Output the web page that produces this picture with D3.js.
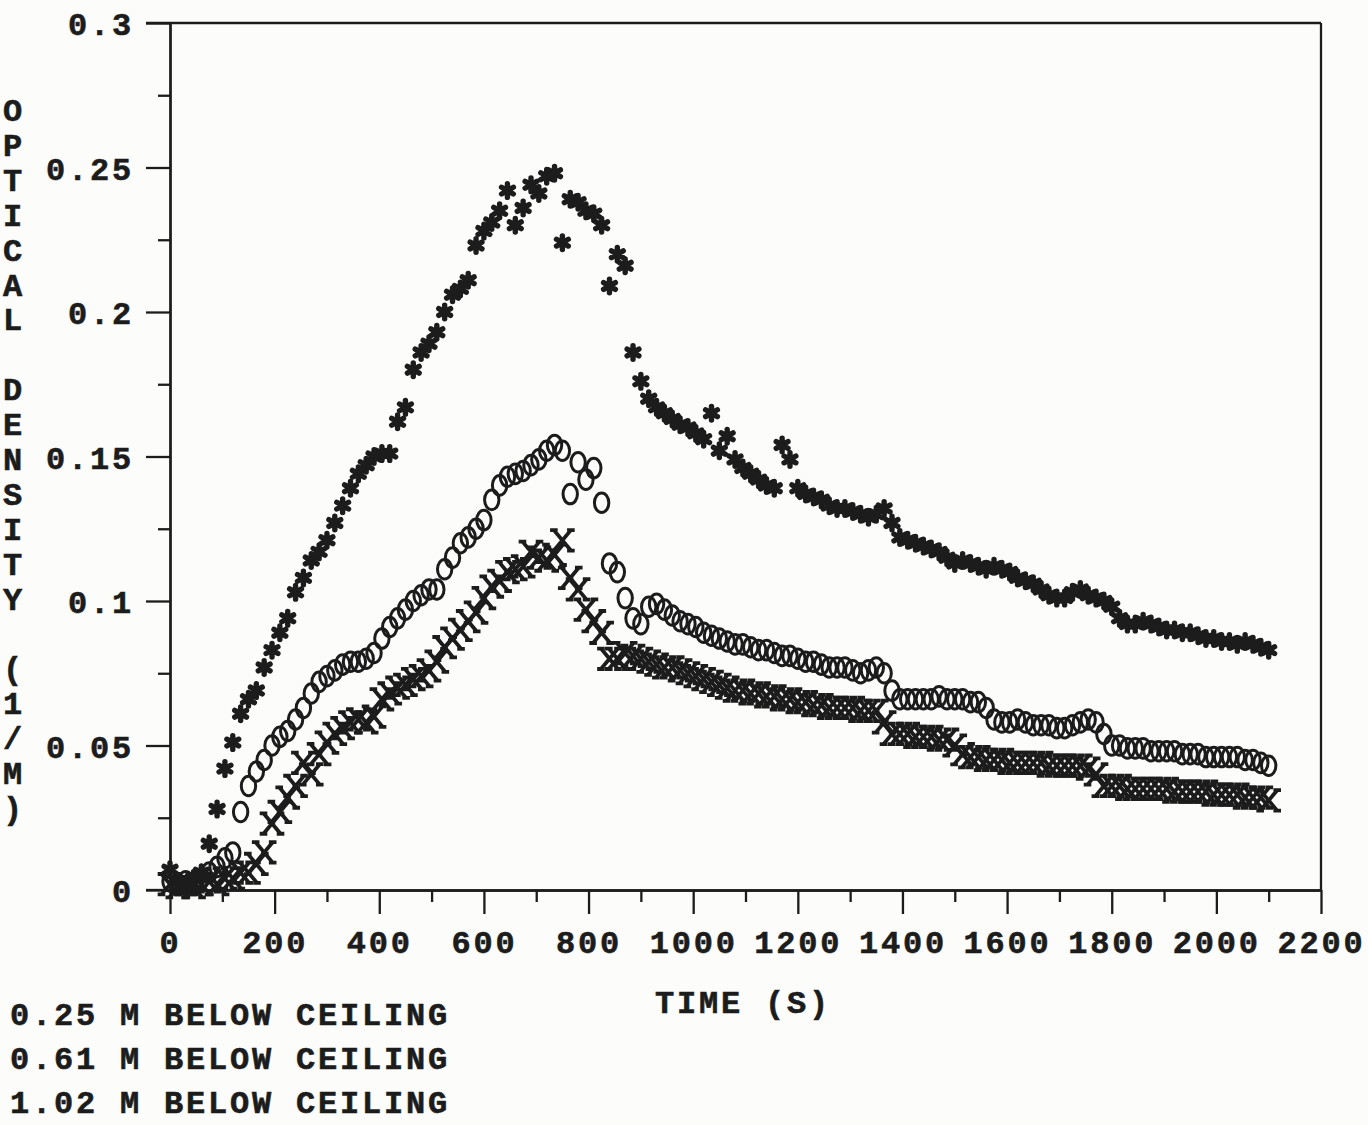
<!DOCTYPE html>
<html>
<head>
<meta charset="utf-8">
<script src="https://cdn.jsdelivr.net/npm/d3@7"></script>
<style>
  body { margin: 0; background: #fcfcfa; }
  svg text { font-family: "Liberation Mono", "DejaVu Sans Mono", monospace; font-weight: bold; fill: #1c1c1c; }
</style>
</head>
<body>
<svg width="1368" height="1125"></svg>
<script>
"use strict";

// time in seconds, one reading every 15 s
var times = d3.range(0, 2101, 15);

// 0.25 m below ceiling (asterisks)
var od025 = [
  0.007, 0.003, 0.002, 0.004, 0.006, 0.016, 0.028, 0.042, 0.051, 0.061,
  0.066, 0.069, 0.077, 0.083, 0.089, 0.094, 0.103, 0.108, 0.114, 0.117,
  0.121, 0.127, 0.133, 0.139, 0.144, 0.147, 0.150, 0.151, 0.151, 0.162,
  0.167, 0.180, 0.186, 0.189, 0.193, 0.200, 0.206, 0.208, 0.211, 0.223,
  0.228, 0.231, 0.235, 0.242, 0.230, 0.236, 0.244, 0.241, 0.247, 0.248,
  0.224, 0.239, 0.238, 0.235, 0.234, 0.230, 0.209, 0.220, 0.216, 0.186,
  0.176, 0.170, 0.167, 0.165, 0.163, 0.161, 0.160, 0.158, 0.156, 0.165,
  0.152, 0.157, 0.149, 0.146, 0.144, 0.142, 0.140, 0.139, 0.154, 0.149,
  0.139, 0.137, 0.136, 0.135, 0.133, 0.132, 0.132, 0.131, 0.130, 0.129,
  0.130, 0.132, 0.127, 0.122, 0.121, 0.120, 0.119, 0.118, 0.117, 0.115,
  0.113, 0.114, 0.113, 0.112, 0.111, 0.112, 0.111, 0.110, 0.108, 0.107,
  0.106, 0.104, 0.102, 0.101, 0.101, 0.103, 0.104, 0.102, 0.101, 0.100,
  0.098, 0.094, 0.092, 0.092, 0.093, 0.092, 0.091, 0.090, 0.090, 0.089,
  0.089, 0.088, 0.087, 0.087, 0.086, 0.086, 0.085, 0.086, 0.085, 0.084,
  0.083
];

// 0.61 m below ceiling (circles)
var od061 = [
  0.003, 0.002, 0.003, 0.002, 0.004, 0.006, 0.008, 0.011, 0.013, 0.027,
  0.036, 0.041, 0.045, 0.050, 0.053, 0.055, 0.059, 0.063, 0.068, 0.072,
  0.074, 0.076, 0.078, 0.079, 0.079, 0.080, 0.082, 0.087, 0.091, 0.094,
  0.097, 0.100, 0.102, 0.104, 0.104, 0.111, 0.115, 0.120, 0.122, 0.125,
  0.128, 0.135, 0.140, 0.143, 0.144, 0.145, 0.147, 0.149, 0.152, 0.154,
  0.152, 0.137, 0.148, 0.142, 0.146, 0.134, 0.113, 0.110, 0.101, 0.094,
  0.092, 0.098, 0.099, 0.097, 0.095, 0.093, 0.092, 0.091, 0.089, 0.088,
  0.087, 0.086, 0.085, 0.085, 0.084, 0.083, 0.083, 0.082, 0.081, 0.081,
  0.080, 0.079, 0.079, 0.078, 0.077, 0.077, 0.077, 0.076, 0.075, 0.076,
  0.077, 0.075, 0.069, 0.066, 0.066, 0.066, 0.066, 0.066, 0.067, 0.066,
  0.066, 0.066, 0.065, 0.065, 0.063, 0.059, 0.058, 0.058, 0.059, 0.058,
  0.057, 0.057, 0.057, 0.056, 0.056, 0.057, 0.058, 0.059, 0.058, 0.054,
  0.050, 0.050, 0.049, 0.049, 0.049, 0.048, 0.048, 0.048, 0.048, 0.047,
  0.047, 0.047, 0.046, 0.046, 0.046, 0.046, 0.046, 0.045, 0.045, 0.044,
  0.043
];

// 1.02 m below ceiling (X)
var od102 = [
  0.002, 0.001, 0.002, 0.001, 0.002, 0.003, 0.002, 0.004, 0.004, 0.006,
  0.006, 0.009, 0.013, 0.023, 0.027, 0.032, 0.036, 0.044, 0.040, 0.047,
  0.051, 0.054, 0.056, 0.058, 0.059, 0.058, 0.060, 0.066, 0.068, 0.070,
  0.071, 0.073, 0.074, 0.076, 0.079, 0.084, 0.087, 0.090, 0.093, 0.096,
  0.101, 0.105, 0.107, 0.110, 0.111, 0.112, 0.117, 0.115, 0.114, 0.116,
  0.121, 0.108, 0.104, 0.097, 0.093, 0.089, 0.080, 0.080, 0.082, 0.081,
  0.080, 0.079, 0.078, 0.077, 0.077, 0.076, 0.075, 0.074, 0.073, 0.072,
  0.071, 0.070, 0.069, 0.069, 0.068, 0.068, 0.067, 0.067, 0.066, 0.066,
  0.065, 0.065, 0.064, 0.064, 0.063, 0.063, 0.063, 0.063, 0.062, 0.062,
  0.062, 0.058, 0.054, 0.054, 0.054, 0.053, 0.053, 0.053, 0.052, 0.052,
  0.050, 0.047, 0.046, 0.046, 0.045, 0.045, 0.045, 0.044, 0.044, 0.044,
  0.044, 0.044, 0.043, 0.043, 0.043, 0.043, 0.043, 0.042, 0.040, 0.036,
  0.036, 0.036, 0.035, 0.035, 0.035, 0.035, 0.035, 0.035, 0.034, 0.034,
  0.034, 0.034, 0.034, 0.033, 0.033, 0.033, 0.033, 0.032, 0.032, 0.032,
  0.031
];

var xTicks = [0, 200, 400, 600, 800, 1000, 1200, 1400, 1600, 1800, 2000, 2200];
var xMinor = [100, 300, 500, 700, 900, 1100, 1300, 1500, 1700, 1900, 2100];
var yTicks = [0, 0.05, 0.1, 0.15, 0.2, 0.25, 0.3];
var yTickLabels = ["0", "0.05", "0.1", "0.15", "0.2", "0.25", "0.3"];
var yMinor = [0.025, 0.075, 0.125, 0.175, 0.225, 0.275];
var yTitle = "OPTICAL DENSITY (1/M)";
var xTitle = "TIME (S)";
var legendLabels = ["0.25 M BELOW CEILING", "0.61 M BELOW CEILING", "1.02 M BELOW CEILING"];

var ink = "#1c1c1c";

var svg = d3.select("svg");

var x = d3.scaleLinear().domain([0, 2200]).range([170, 1321]),
    y = d3.scaleLinear().domain([0, 0.3]).range([890, 23]);

// typewriter style X with little serifs
var symbolSerifX = {
  draw: function(ctx, size) {
    var r = Math.sqrt(size) / 2, h = r * 1.2, s = 3.8;
    ctx.moveTo(-r, -h); ctx.lineTo(r, h);
    ctx.moveTo(r, -h); ctx.lineTo(-r, h);
    ctx.moveTo(-r - s, -h); ctx.lineTo(-r + s, -h);
    ctx.moveTo(r - s, -h); ctx.lineTo(r + s, -h);
    ctx.moveTo(-r - s, h); ctx.lineTo(-r + s, h);
    ctx.moveTo(r - s, h); ctx.lineTo(r + s, h);
  }
};

var fontSize = 32;
function styleText(sel) {
  sel.attr("font-size", fontSize).attr("letter-spacing", 2.8)
     .attr("fill", ink).attr("stroke", ink).attr("stroke-width", 0.6);
}

// axes
var gy = svg.append("g")
    .attr("transform", "translate(" + x(0) + ",0)")
    .call(d3.axisLeft(y).tickValues(yTicks).tickSize(24).tickSizeOuter(0).tickPadding(12)
      .tickFormat(function(d, i) { return yTickLabels[i]; }));

svg.append("g")
    .attr("transform", "translate(" + x(0) + ",0)")
    .call(d3.axisLeft(y).tickValues(yMinor).tickSize(12).tickSizeOuter(0).tickFormat(""));

var gx = svg.append("g")
    .attr("transform", "translate(0," + y(0) + ")")
    .call(d3.axisBottom(x).tickValues(xTicks).tickSize(24).tickSizeOuter(0).tickPadding(12)
      .tickFormat(d3.format("d")));

svg.append("g")
    .attr("transform", "translate(0," + y(0) + ")")
    .call(d3.axisBottom(x).tickValues(xMinor).tickSize(12).tickSizeOuter(0).tickFormat(""));

svg.selectAll(".domain, .tick line").attr("stroke", ink).attr("stroke-width", 2.3);
gy.selectAll(".tick text").call(styleText).attr("dy", "0.36em");
gx.selectAll(".tick text").call(styleText).attr("dy", "0.85em");
gy.selectAll("text").attr("font-family", null);
gx.selectAll("text").attr("font-family", null);

// frame: top and right edges, x axis running left past the y axis
svg.append("line")
    .attr("x1", x(0) - 24).attr("x2", x(2200))
    .attr("y1", y(0.3)).attr("y2", y(0.3))
    .attr("stroke", ink).attr("stroke-width", 2.3);
svg.append("line")
    .attr("x1", x(2200)).attr("x2", x(2200))
    .attr("y1", y(0.3)).attr("y2", y(0))
    .attr("stroke", ink).attr("stroke-width", 2.3);
svg.append("line")
    .attr("x1", x(0) - 24).attr("x2", x(0))
    .attr("y1", y(0)).attr("y2", y(0))
    .attr("stroke", ink).attr("stroke-width", 2.3);

// stacked y title, one character per line
svg.append("g").selectAll("text")
    .data(yTitle.split(""))
  .enter().append("text")
    .attr("x", 14)
    .attr("y", function(d, i) { return 121 + i * 34.9; })
    .attr("text-anchor", "middle")
    .call(styleText)
    .text(function(d) { return d; });

svg.append("text")
    .attr("x", 743).attr("y", 1013)
    .attr("text-anchor", "middle")
    .call(styleText)
    .text(xTitle);

svg.append("g").selectAll("text")
    .data(legendLabels)
  .enter().append("text")
    .attr("x", 10)
    .attr("y", function(d, i) { return 1025 + i * 44; })
    .call(styleText)
    .text(function(d) { return d; });

// points
var plot = svg.append("g").attr("fill", "none").attr("stroke", ink);

var pts061 = times.map(function(t, i) { return {t: t, v: od061[i]}; });
var pts102 = times.map(function(t, i) { return {t: t, v: od102[i]}; });
var pts025 = times.map(function(t, i) { return {t: t, v: od025[i]}; });

plot.append("g").selectAll("ellipse")
    .data(pts061)
  .enter().append("ellipse")
    .attr("cx", function(d) { return x(d.t); })
    .attr("cy", function(d) { return y(d.v); })
    .attr("rx", 7.2).attr("ry", 9.8)
    .attr("stroke-width", 3);

plot.append("g").selectAll("path")
    .data(pts102)
  .enter().append("path")
    .attr("transform", function(d) { return "translate(" + x(d.t) + "," + y(d.v) + ")"; })
    .attr("d", d3.symbol(symbolSerifX, 290))
    .attr("stroke-width", 3.8);

plot.append("g").selectAll("path")
    .data(pts025)
  .enter().append("path")
    .attr("transform", function(d) { return "translate(" + x(d.t) + "," + y(d.v) + ")"; })
    .attr("d", d3.symbol(d3.symbolAsterisk, 130))
    .attr("stroke-width", 5.4)
    .attr("stroke-linecap", "round");
</script>
</body>
</html>
